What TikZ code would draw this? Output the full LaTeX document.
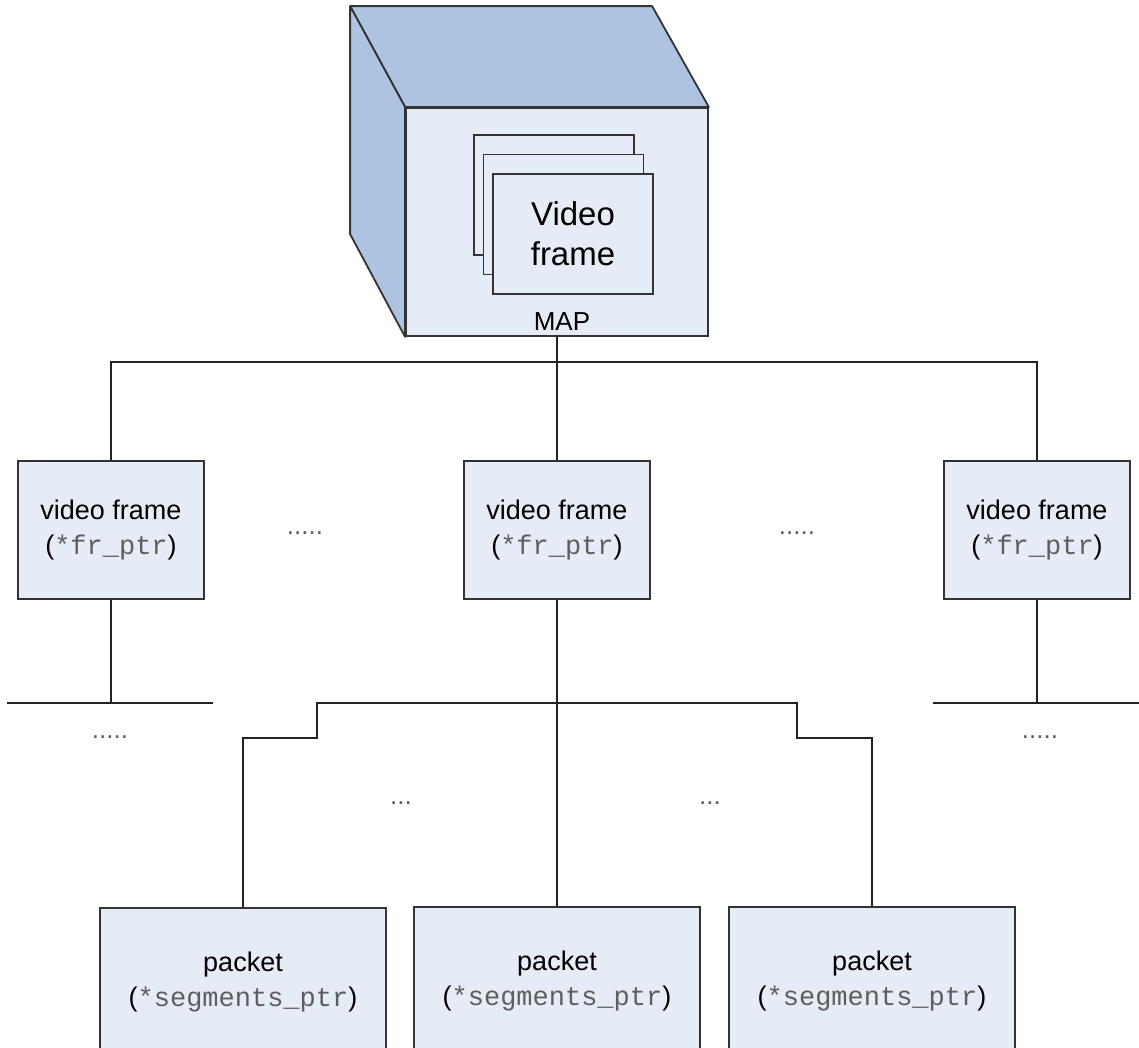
\documentclass[tikz,border=0pt]{standalone}
\usepackage{fontspec}
\setmainfont{Liberation Sans}
\setmonofont{Liberation Mono}
\usepackage{tikz}
\usetikzlibrary{positioning}
\definecolor{mapFace}{HTML}{E6ECF6}
\definecolor{mapSide}{HTML}{AEC3E2}
\definecolor{mapEdge}{HTML}{333333}
\definecolor{mapLine}{HTML}{222222}
\definecolor{mapMute}{HTML}{5E5E5E}
\newcommand{\ptrtxt}[1]{(\textcolor{mapMute}{\ttfamily #1})}
\tikzset{
  mapnode/.style={
    draw=mapEdge, fill=mapFace, line width=1.8pt, align=center,
    inner sep=0pt, font=\fontsize{27}{35}\selectfont
  },
  framebox/.style={mapnode, minimum width=186pt, minimum height=138pt},
  packetbox/.style={mapnode, minimum width=286pt, minimum height=148pt},
  sheet/.style={mapnode, minimum width=160pt, minimum height=120pt,
    font=\fontsize{33}{40}\selectfont},
  face/.style={draw=mapEdge, fill=mapSide, line width=1.8pt, line join=round},
  link/.style={draw=mapLine, line width=1.8pt},
  gap/.style={text=mapMute, anchor=base, inner sep=0pt, font=\fontsize{26}{30}\selectfont}
}

\begin{document}
\begin{tikzpicture}[x=1pt, y=-1pt]
  \path[use as bounding box, clip] (0,0) rectangle (1139,1047);
  \node[mapnode, minimum width=302pt, minimum height=228pt] (map) at (557,222) {};
  \draw[face] (map.north west) -- ++(-55,-101) -- ++(302,0) -- (map.north east) -- cycle;
  \draw[face] (map.north west) -- ++(-55,-101) -- ++(0,228) -- (map.south west) -- cycle;
  \node[sheet] (sheet3) at (554,195) {};
  \node[sheet] (sheet2) at ([shift={(9.5,19.5)}]sheet3) {};
  \node[sheet] (sheet1) at ([shift={(9.5,19.5)}]sheet2) {Video\\frame};
  \node[gap, font=\fontsize{26}{30}\selectfont, text=black] (maplbl) at (562,330) {MAP};

  \node[framebox] (vf1) at (111,530) {video frame\\\ptrtxt{*fr\_ptr}};
  \node[framebox] (vf2) at (557,530) {video frame\\\ptrtxt{*fr\_ptr}};
  \node[framebox] (vf3) at (1037,530) {video frame\\\ptrtxt{*fr\_ptr}};
  \node[gap] (gap1) at (305,534) {.....};
  \node[gap] (gap2) at (797,534) {.....};

  \node[packetbox] (pk1) at (243,982) {packet\\\ptrtxt{*segments\_ptr}};
  \node[packetbox] (pk2) at (557,981) {packet\\\ptrtxt{*segments\_ptr}};
  \node[packetbox] (pk3) at (872,981) {packet\\\ptrtxt{*segments\_ptr}};
  \node[gap] (gap3) at (401,804) {...};
  \node[gap] (gap4) at (710,804) {...};

  \coordinate (bus) at (557,362);
  \coordinate (sl) at (317,738);
  \coordinate (sr) at (797,738);
  \coordinate (busL) at (7,703);
  \coordinate (busR) at (1139,703);
  \draw[link] (map.south) -- (vf2.north);
  \draw[link] (vf1.north) |- (bus) -| (vf3.north);
  \draw[link] (vf1.south) -- (vf1.south |- busL);
  \draw[link] (busL) -- (busL -| 213,0);
  \draw[link] (vf3.south) -- (vf3.south |- busR);
  \draw[link] (busR -| 933,0) -- (busR);
  \node[gap] (gap5) at (110,738) {.....};
  \node[gap] (gap6) at (1040,738) {.....};

  \draw[link] (vf2.south) -- (pk2.north);
  \draw[link] (pk1.north) |- (sl) -- (sl |- busL) -| (sr) -| (pk3.north);
\end{tikzpicture}
\end{document}
